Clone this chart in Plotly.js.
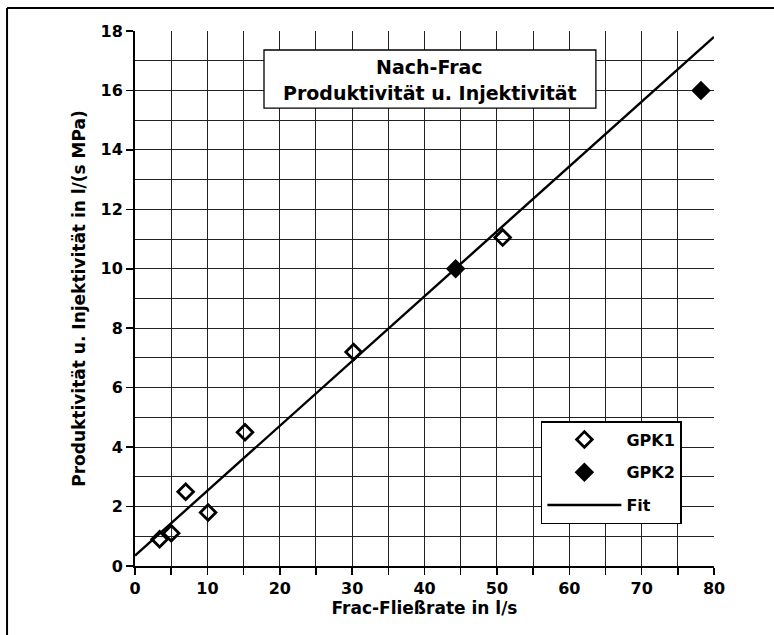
<!DOCTYPE html>
<html>
<head>
<meta charset="utf-8">
<script src="https://cdn.plot.ly/plotly-3.0.1.min.js"></script>
<style>html,body{margin:0;padding:0;background:#fff;}#chart{width:774px;height:635px;}</style>
</head>
<body>
<div id="chart"></div>
<script>
const gpk1X = [3.4, 5.0, 7.0, 10.1, 15.2, 30.2, 50.8];
const gpk1Y = [0.9, 1.1, 2.5, 1.8, 4.5, 7.2, 11.05];
const gpk2X = [44.3, 78.2];
const gpk2Y = [10.0, 16.0];
const fitX = [0, 80];
const fitY = [0.35, 17.8];
const seriesNames = ['GPK1', 'GPK2', 'Fit'];
const titleLines = ['Nach-Frac', 'Produktivität u. Injektivität'];
const xTitle = 'Frac-Fließrate in l/s';
const yTitle = 'Produktivität u. Injektivität in l/(s MPa)';

const FONT = 'DejaVu Sans, Verdana, sans-serif';

const traces = [
  {x: fitX, y: fitY, type: 'scatter', mode: 'lines', name: seriesNames[2],
   line: {color: '#000', width: 2.4}, legendgroup: 'c', legendrank: 3},
  {x: gpk1X, y: gpk1Y, type: 'scatter', mode: 'markers', name: seriesNames[0],
   marker: {symbol: 'diamond-open', size: 12, color: '#000', line: {width: 2.8, color: '#000'}},
   legendgroup: 'a', legendrank: 1},
  {x: gpk2X, y: gpk2Y, type: 'scatter', mode: 'markers', name: seriesNames[1],
   marker: {symbol: 'diamond', size: 15, color: '#000'},
   legendgroup: 'b', legendrank: 2}
];

const layout = {
  width: 774, height: 635,
  margin: {l: 135, r: 60, t: 31, b: 69},
  paper_bgcolor: '#fff', plot_bgcolor: '#fff',
  font: {family: FONT, color: '#000'},
  showlegend: true,
  legend: {
    x: 0.701, y: 0.271, xanchor: 'left', yanchor: 'top',
    bgcolor: '#fff', bordercolor: '#000', borderwidth: 1.5,
    font: {family: FONT, size: 16, weight: 'bold', color: '#000'},
    itemwidth: 74, tracegroupgap: 9, traceorder: 'grouped'
  },
  xaxis: {
    range: [0, 80], dtick: 10, tick0: 0,
    showgrid: true, gridcolor: '#222', gridwidth: 1,
    showline: true, linecolor: '#000', linewidth: 2,
    ticks: 'outside', ticklen: 7, tickcolor: '#000', tickwidth: 1.5,
    tickfont: {family: FONT, size: 16, weight: 'bold', color: '#000'},
    minor: {dtick: 5, showgrid: true, gridcolor: '#222', gridwidth: 1, ticks: 'outside', ticklen: 7, tickcolor: '#000', tickwidth: 1.5},
    zeroline: false, fixedrange: true,
    title: {text: xTitle, font: {family: FONT, size: 17, weight: 'bold', color: '#000'}, standoff: 5}
  },
  yaxis: {
    range: [0, 18], dtick: 2, tick0: 0,
    showgrid: true, gridcolor: '#222', gridwidth: 1,
    showline: true, linecolor: '#000', linewidth: 2,
    ticks: 'outside', ticklen: 7, tickcolor: '#000', tickwidth: 1.5,
    tickfont: {family: FONT, size: 16, weight: 'bold', color: '#000'},
    minor: {dtick: 1, showgrid: true, gridcolor: '#222', gridwidth: 1, ticks: ''},
    zeroline: false, fixedrange: true,
    title: {text: yTitle, font: {family: FONT, size: 17, weight: 'bold', color: '#000'}, standoff: 11}
  },
  annotations: [
    {xref: 'paper', yref: 'paper', x: 0.509, y: 0.933, xanchor: 'center', yanchor: 'middle',
     text: titleLines[0], showarrow: false, font: {family: FONT, size: 19, weight: 'bold', color: '#000'}},
    {xref: 'paper', yref: 'paper', x: 0.509, y: 0.884, xanchor: 'center', yanchor: 'middle',
     text: titleLines[1], showarrow: false, font: {family: FONT, size: 19, weight: 'bold', color: '#000'}}
  ],
  shapes: [
    {type: 'rect', xref: 'paper', yref: 'paper', x0: 0.2228, x1: 0.796, y0: 0.856, y1: 0.9645,
     fillcolor: '#fff', line: {color: '#000', width: 1.3}, layer: 'above'},
    {type: 'line', xref: 'paper', yref: 'paper', x0: -0.221, x1: 1.2, y0: 1.043, y1: 1.043, line: {color: '#000', width: 2}},
    {type: 'line', xref: 'paper', yref: 'paper', x0: -0.221, x1: -0.221, y0: 1.043, y1: -0.2, line: {color: '#000', width: 2}}
  ]
};

Plotly.newPlot('chart', traces, layout, {displayModeBar: false, staticPlot: true});
</script>
</body>
</html>
